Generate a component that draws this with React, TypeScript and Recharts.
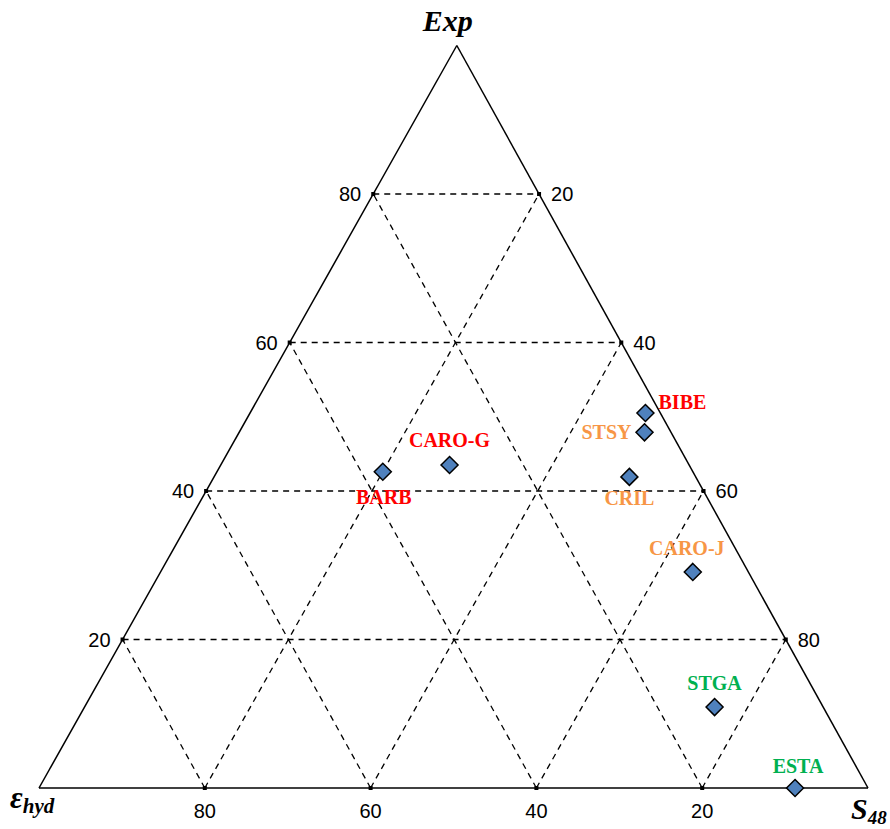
import { ScatterChart, Scatter, XAxis, YAxis, ReferenceLine } from "recharts";

// ternary data: Exp (top), ε_hyd (bottom-left), S48 (bottom-right), in %
const samples = ["BIBE", "STSY", "CRIL", "CARO-G", "BARB", "CARO-J", "STGA", "ESTA"];
const expValues = [50.5, 47.9, 41.9, 43.5, 42.6, 29.1, 10.9, 0];
const ehydValues = [1.8, 3.2, 8.0, 28.9, 37.4, 6.7, 13.1, 8.8];
const s48Values = [47.7, 48.9, 50.1, 27.6, 20.0, 64.2, 76.0, 91.2];
const sampleGroups = ["red", "orange", "orange", "red", "red", "orange", "green", "green"];
const gridTicks = [20, 40, 60, 80];

const groupColors: Record<string, string> = {
  red: "#FF0000",
  orange: "#F79646",
  green: "#00B050",
};

// label offsets (px) relative to marker
const labelOffsets: Record<string, [number, number]> = {
  BIBE: [37, -11],
  STSY: [-38, 0],
  CRIL: [0, 21],
  "CARO-G": [0, -25],
  BARB: [1, 25],
  "CARO-J": [-6, -24],
  STGA: [0, -24],
  ESTA: [3, -22],
};

const SERIF = '"Liberation Serif", "Times New Roman", serif';
const SANS = '"Liberation Sans", Arial, sans-serif';

// apex of the original triangle sits slightly right of centre
const APEX_SHIFT = 0.504;

function toXY(exp: number, ehyd: number, s48: number) {
  const total = exp + ehyd + s48;
  const a = (exp / total) * 100;
  const c = (s48 / total) * 100;
  return { x: c + a * APEX_SHIFT, y: a };
}

const pointData = samples.map((name, i) => ({
  ...toXY(expValues[i], ehydValues[i], s48Values[i]),
  name,
  group: sampleGroups[i],
}));

const edges = [
  [toXY(100, 0, 0), toXY(0, 100, 0)],
  [toXY(0, 100, 0), toXY(0, 0, 100)],
  [toXY(0, 0, 100), toXY(100, 0, 0)],
];

const gridLines = gridTicks.flatMap((t) => [
  [toXY(t, 100 - t, 0), toXY(t, 0, 100 - t)],
  [toXY(0, 100 - t, t), toXY(100 - t, 0, t)],
  [toXY(0, t, 100 - t), toXY(100 - t, t, 0)],
]);

const tickData = gridTicks.flatMap((t) => [
  { ...toXY(t, 100 - t, 0), label: t, side: "left" },
  { ...toXY(100 - t, 0, t), label: t, side: "right" },
  { ...toXY(0, t, 100 - t), label: t, side: "bottom" },
]);

const vertexData = [
  { ...toXY(100, 0, 0), name: "Exp" },
  { ...toXY(0, 100, 0), name: "ehyd" },
  { ...toXY(0, 0, 100), name: "S48" },
];

const Diamond = (props: any) => {
  const { cx, cy, payload } = props;
  const r = 8.5;
  const [dx, dy] = labelOffsets[payload.name] || [0, 0];
  return (
    <g>
      <polygon
        points={`${cx},${cy - r} ${cx + r},${cy} ${cx},${cy + r} ${cx - r},${cy}`}
        fill="#4F81BD"
        stroke="#000"
        strokeWidth={1.5}
      />
      <text
        x={cx + dx}
        y={cy + dy}
        textAnchor="middle"
        dominantBaseline="central"
        fill={groupColors[payload.group]}
        fontFamily={SERIF}
        fontWeight="bold"
        fontSize={20}
      >
        {payload.name}
      </text>
    </g>
  );
};

const TickMark = (props: any) => {
  const { cx, cy, payload } = props;
  let tx = cx;
  let ty = cy;
  let anchor: "start" | "middle" | "end" = "middle";
  if (payload.side === "left") {
    tx = cx - 12;
    anchor = "end";
  } else if (payload.side === "right") {
    tx = cx + 12;
    anchor = "start";
  } else {
    ty = cy + 23;
  }
  return (
    <g>
      <rect x={cx - 2} y={cy - 2} width={4} height={4} fill="#000" />
      <text
        x={tx}
        y={ty}
        textAnchor={anchor}
        dominantBaseline="central"
        fontFamily={SANS}
        fontSize={20}
        fill="#000"
      >
        {payload.label}
      </text>
    </g>
  );
};

const VertexLabel = (props: any) => {
  const { cx, cy, payload } = props;
  const style = { fontFamily: SERIF, fontWeight: "bold" as const, fontStyle: "italic" as const, fill: "#000" };
  if (payload.name === "Exp") {
    return (
      <text x={cx - 9} y={cy - 15} textAnchor="middle" fontSize={30} {...style}>
        Exp
      </text>
    );
  }
  if (payload.name === "ehyd") {
    return (
      <text x={cx - 29} y={cy + 20} fontSize={31} {...style}>
        ε
        <tspan fontSize={21} dy={5}>
          hyd
        </tspan>
      </text>
    );
  }
  return (
    <text x={cx - 17} y={cy + 31} fontSize={30} {...style}>
      S
      <tspan fontSize={19} dy={5}>
        48
      </tspan>
    </text>
  );
};

export default function App() {
  return (
    <div style={{ position: "absolute", left: 0, top: 0, background: "#fff" }}>
      <ScatterChart width={890} height={829} margin={{ top: 45.5, right: 22, bottom: 41, left: 39 }}>
        <XAxis type="number" dataKey="x" domain={[0, 100]} hide />
        <YAxis type="number" dataKey="y" domain={[0, 100]} hide />
        {gridLines.map((seg, i) => (
          <ReferenceLine
            key={`g${i}`}
            segment={seg}
            stroke="#000"
            strokeWidth={1.3}
            strokeDasharray="6 5"
            ifOverflow="visible"
          />
        ))}
        {edges.map((seg, i) => (
          <ReferenceLine key={`e${i}`} segment={seg} stroke="#000" strokeWidth={1.5} ifOverflow="visible" />
        ))}
        <Scatter data={tickData} shape={TickMark} isAnimationActive={false} />
        <Scatter data={vertexData} shape={VertexLabel} isAnimationActive={false} />
        <Scatter data={pointData} shape={Diamond} isAnimationActive={false} />
      </ScatterChart>
    </div>
  );
}
